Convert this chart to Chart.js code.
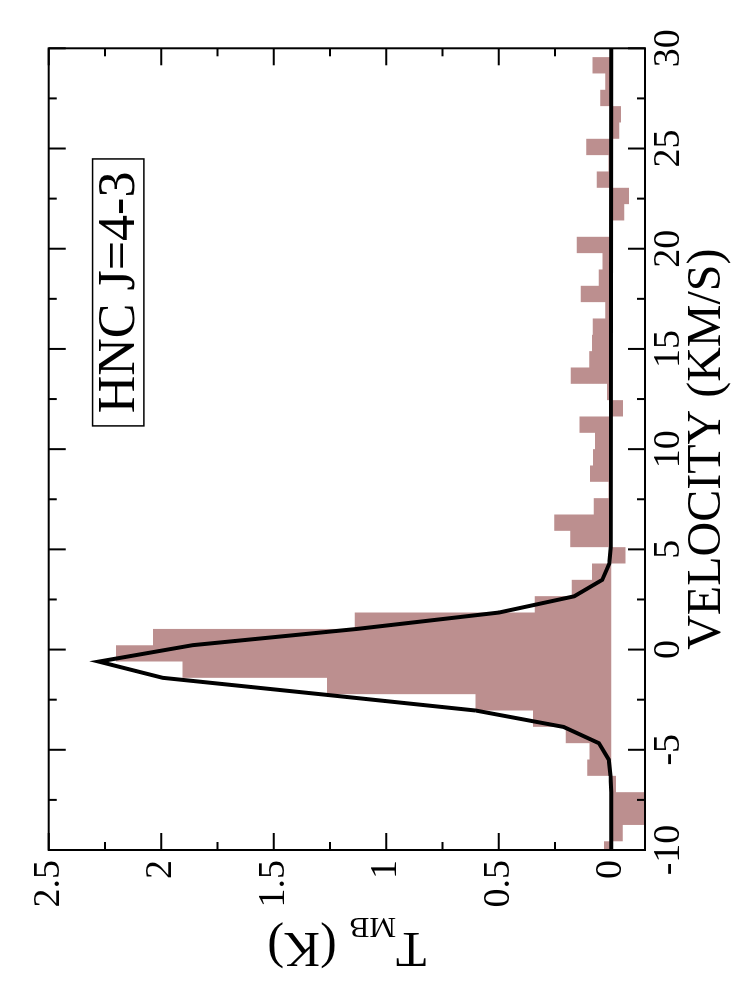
<!DOCTYPE html>
<html>
<head>
<meta charset="utf-8">
<script src="https://cdn.jsdelivr.net/npm/chart.js"></script>
<style>
  html, body { margin: 0; padding: 0; background: #fff; overflow: hidden; width: 746px; height: 1001px; }
  #wrap { position: absolute; left: 0; top: 0; width: 1001px; height: 746px;
          transform-origin: 0 0; transform: translateY(1001px) rotate(-90deg); }
  canvas { display: block; }
</style>
</head>
<body>
<div id="wrap"><canvas id="c" width="1001" height="746"></canvas></div>
<script>
// ---- data ----
const binCenters = [-9.97, -9.16, -8.34, -7.52, -6.71, -5.89, -5.08, -4.26, -3.45, -2.63,
  -1.82, -1.00, -0.19, 0.62, 1.44, 2.26, 3.07, 3.89, 4.70, 5.52,
  6.33, 7.15, 7.96, 8.78, 9.59, 10.41, 11.22, 12.04, 12.85, 13.67,
  14.48, 15.30, 16.11, 16.93, 17.74, 18.56, 19.37, 20.19, 21.00, 21.82,
  22.63, 23.45, 24.26, 25.08, 25.89, 26.71, 27.52, 28.34, 29.15, 29.97];
const spectrumTmb = [0.032, -0.051, -0.17, -0.17, -0.021, 0.107, 0.097, 0.202, 0.348, 0.603,
  1.263, 1.905, 2.201, 2.037, 1.14, 0.34, 0.175, 0.085, -0.063, 0.182,
  0.253, 0.078, 0.012, 0.094, 0.081, 0.072, 0.141, -0.052, 0.019, 0.18,
  0.098, 0.085, 0.082, 0.027, 0.135, 0.055, 0.039, 0.153, -0.003, -0.058,
  -0.079, 0.064, 0.012, 0.111, -0.036, -0.043, 0.049, 0.027, 0.083, 0.0];
const fitVelocity = [-10.5, -7.12, -6.30, -5.49, -4.67, -3.86, -3.04, -2.23, -1.41, -0.60,
  0.22, 1.03, 1.85, 2.66, 3.48, 4.29, 5.11, 30.5];
const fitTmb = [0, 0, 0.003, 0.011, 0.055, 0.212, 0.603, 1.29, 1.993, 2.277,
  1.86, 1.13, 0.498, 0.164, 0.040, 0.009, 0.002, 0];

const velocityTicks = [-10, -5, 0, 5, 10, 15, 20, 25, 30];
const velocityMinorTicks = [-7.5, -2.5, 2.5, 7.5, 12.5, 17.5, 22.5, 27.5];
const tmbTicks = [0, 0.5, 1, 1.5, 2, 2.5];
const tmbMinorTicks = [0.25, 0.75, 1.25, 1.75, 2.25];

const legendText = 'HNC J=4-3';
const xTitle = 'VELOCITY (KM/S)';

// ---- plugins: frame with inward ticks, y title with subscript, label box ----
const framePlugin = {
  id: 'frame',
  afterDraw(chart) {
    const { ctx, chartArea: a, scales: { x, y } } = chart;
    ctx.save();
    ctx.strokeStyle = '#000';
    ctx.lineWidth = 2;
    ctx.beginPath();
    const vt = (vals, len) => vals.forEach(v => {
      const p = x.getPixelForValue(v);
      ctx.moveTo(p, a.bottom); ctx.lineTo(p, a.bottom - len);
      ctx.moveTo(p, a.top); ctx.lineTo(p, a.top + len);
    });
    const ht = (vals, len) => vals.forEach(v => {
      const p = y.getPixelForValue(v);
      ctx.moveTo(a.left, p); ctx.lineTo(a.left + len, p);
      ctx.moveTo(a.right, p); ctx.lineTo(a.right - len, p);
    });
    vt(velocityTicks, 17); vt(velocityMinorTicks, 8);
    ht(tmbTicks, 17); ht(tmbMinorTicks, 8);
    ctx.stroke();
    ctx.strokeRect(a.left, a.top, a.right - a.left, a.bottom - a.top);

    // label box
    const bx1 = x.getPixelForValue(11.16), bx2 = x.getPixelForValue(24.48);
    const by1 = y.getPixelForValue(2.305), by2 = y.getPixelForValue(2.077);
    ctx.lineWidth = 1.5;
    ctx.strokeRect(bx1, by1, bx2 - bx1, by2 - by1);
    ctx.fillStyle = '#000';
    ctx.font = '52px "Liberation Serif"';
    ctx.textAlign = 'center';
    ctx.textBaseline = 'alphabetic';
    ctx.fillText(legendText, x.getPixelForValue(17.82), y.getPixelForValue(2.122));

    // y-axis title with subscript
    const cy = (a.top + a.bottom) / 2;
    ctx.translate(68, cy);
    ctx.rotate(-Math.PI / 2);
    ctx.textAlign = 'left';
    const big = '50px "Liberation Serif"', small = '30px "Liberation Serif"';
    ctx.font = big;
    const wT = ctx.measureText('T').width, wK = ctx.measureText(' (K)').width;
    ctx.font = small;
    const wMB = ctx.measureText('MB').width;
    let px = -(wT + wMB + wK) / 2;
    ctx.font = big; ctx.fillText('T', px, 0); px += wT;
    ctx.font = small; ctx.fillText('MB', px, 15); px += wMB;
    ctx.font = big; ctx.fillText(' (K)', px, 0);
    ctx.restore();
  }
};

new Chart(document.getElementById('c'), {
  type: 'line',
  data: {
    datasets: [
      {
        label: 'fit',
        data: fitVelocity.map((v, i) => ({ x: v, y: fitTmb[i] })),
        borderColor: '#000', borderWidth: 4, pointRadius: 0, fill: false,
        tension: 0, clip: 0
      },
      {
        label: 'spectrum',
        data: binCenters.map((v, i) => ({ x: v, y: spectrumTmb[i] })),
        stepped: 'middle', fill: 'origin', backgroundColor: '#bc8f8f',
        borderColor: 'rgba(0,0,0,0)', borderWidth: 0, pointRadius: 0, clip: 0
      }
    ]
  },
  options: {
    responsive: false, animation: false, devicePixelRatio: 1,
    layout: { padding: { left: 0, right: 48.3, top: 48.7, bottom: 0 } },
    plugins: { legend: { display: false }, tooltip: { enabled: false } },
    scales: {
      x: {
        type: 'linear', min: -10, max: 30,
        afterBuildTicks: s => { s.ticks = velocityTicks.map(v => ({ value: v })); },
        afterFit: s => { s.height = 101; },
        grid: { display: false, drawTicks: false },
        border: { display: false },
        ticks: {
          color: '#000', padding: 1, maxRotation: 0, autoSkip: false,
          font: { family: 'Liberation Serif', size: 38 },
          callback: v => String(v)
        },
        title: {
          display: true, text: xTitle, color: '#000',
          font: { family: 'Liberation Serif', size: 48 },
          padding: { top: 0, bottom: 9.7 }
        }
      },
      y: {
        type: 'linear', min: -0.15, max: 2.5,
        afterBuildTicks: s => { s.ticks = tmbTicks.map(v => ({ value: v })); },
        afterFit: s => { s.width = 151; },
        grid: { display: false, drawTicks: false },
        border: { display: false },
        ticks: {
          color: '#000', padding: 10, autoSkip: false,
          font: { family: 'Liberation Serif', size: 38 },
          callback: v => String(v)
        }
      }
    }
  },
  plugins: [framePlugin]
});
</script>
</body>
</html>
